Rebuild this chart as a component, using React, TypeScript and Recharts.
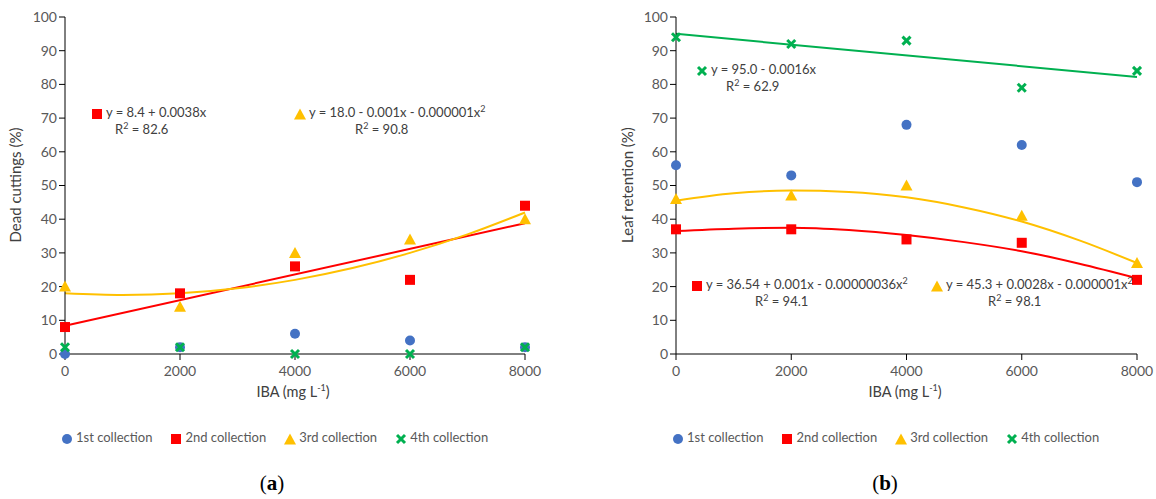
import React from 'react';
import {
  ComposedChart,
  Scatter,
  Line,
  XAxis,
  YAxis,
} from 'recharts';

// IBA concentrations (mg L-1)
const IBA = [0, 2000, 4000, 6000, 8000];
const Y_TICKS = [0, 10, 20, 30, 40, 50, 60, 70, 80, 90, 100];
const X_TICKS = [0, 2000, 4000, 6000, 8000];

// (a) dead cuttings (%)
const dead1st = [0, 2, 6, 4, 2];
const dead2nd = [8, 18, 26, 22, 44];
const dead3rd = [20, 14, 30, 34, 40];
const dead4th = [2, 2, 0, 0, 2];

// (b) leaf retention (%)
const leaf1st = [56, 53, 68, 62, 51];
const leaf2nd = [37, 37, 34, 33, 22];
const leaf3rd = [46, 47, 50, 41, 27];
const leaf4th = [94, 92, 93, 79, 84];

// trend lines
const LINE_X = [0, 8000];
const CURVE_X = [0, 1000, 2000, 3000, 4000, 5000, 6000, 7000, 8000];
const dead2ndFit = [8.4, 38.8];
const dead3rdFit = [18, 17.5, 18, 19.5, 22, 25.5, 30, 35.5, 42];
const leaf2ndFit = [36.5, 37.2, 37.5, 36.8, 35.3, 33.2, 30.5, 26.8, 22.5];
const leaf3rdFit = [45.5, 47.7, 48.5, 48.1, 46.5, 43.5, 39.3, 33.7, 27];
const leaf4thFit = [95, 82.2];

const BLUE = '#4472C4';
const RED = '#FF0000';
const YELLOW = '#FFC000';
const GREEN = '#00B050';
const GRAY = '#595959';
const FONT = 'Lato, "Open Sans", sans-serif';

const pts = (xs: number[], ys: number[]) => xs.map((x, i) => ({ x, y: ys[i] }));

const CircleDot = (p: any) => <circle cx={p.cx} cy={p.cy} r={5} fill={BLUE} />;
const SquareDot = (p: any) => (
  <rect x={p.cx - 5} y={p.cy - 5} width={10} height={10} fill={RED} />
);
const TriangleDot = (p: any) => (
  <path d={`M${p.cx},${p.cy - 6}L${p.cx + 6},${p.cy + 5}L${p.cx - 6},${p.cy + 5}Z`} fill={YELLOW} />
);
const XDot = (p: any) => (
  <g stroke={GREEN} strokeWidth={3}>
    <line x1={p.cx - 4} y1={p.cy - 4} x2={p.cx + 4} y2={p.cy + 4} />
    <line x1={p.cx - 4} y1={p.cy + 4} x2={p.cx + 4} y2={p.cy - 4} />
  </g>
);

const Icon = ({ kind }: { kind: string }) => (
  <svg width={12} height={12} style={{ verticalAlign: 'middle', marginRight: 3 }}>
    {kind === 'circle' && <CircleDot cx={6} cy={6} />}
    {kind === 'square' && <SquareDot cx={6} cy={6} />}
    {kind === 'triangle' && <TriangleDot cx={6} cy={6.5} />}
    {kind === 'x' && <XDot cx={6} cy={6} />}
  </svg>
);

const LEGEND = [
  { kind: 'circle', label: '1st collection' },
  { kind: 'square', label: '2nd collection' },
  { kind: 'triangle', label: '3rd collection' },
  { kind: 'x', label: '4th collection' },
];

const Legend = ({ left }: { left: number }) => (
  <div style={{ position: 'absolute', left, top: 429, display: 'flex', gap: 18, fontSize: 13, color: GRAY, whiteSpace: 'nowrap' }}>
    {LEGEND.map((l) => (
      <span key={l.label}>
        <Icon kind={l.kind} />
        {l.label}
      </span>
    ))}
  </div>
);

const Equation = ({ left, top, kind, eq, r2, sq, r2Left }: any) => (
  <div style={{ position: 'absolute', left, top, fontSize: 13, color: '#404040', whiteSpace: 'nowrap', lineHeight: '17px' }}>
    <div>
      <Icon kind={kind} />
      {eq}
      {sq && <sup style={{ fontSize: 9, lineHeight: 0 }}>2</sup>}
    </div>
    <div style={{ paddingLeft: r2Left }}>
      R<sup style={{ fontSize: 9, lineHeight: 0 }}>2</sup> = {r2}
    </div>
  </div>
);

const Panel = ({ s1, s2, s3, s4, fits, yWidth, width, right }: any) => (
  <ComposedChart width={width} height={384} margin={{ top: 17, right, bottom: 0, left: 0 }}>
    <XAxis
      type="number"
      dataKey="x"
      domain={[0, 8000]}
      ticks={X_TICKS}
      height={30}
      stroke="#000"
      tick={{ fill: GRAY, fontSize: 14 }}
      tickMargin={6}
    />
    <YAxis
      type="number"
      dataKey="y"
      domain={[0, 100]}
      ticks={Y_TICKS}
      width={yWidth}
      stroke="#000"
      tick={{ fill: GRAY, fontSize: 14 }}
      interval={0}
    />
    {fits.map((f: any, i: number) => (
      <Line
        key={i}
        data={f.data}
        dataKey="y"
        type="monotone"
        stroke={f.color}
        strokeWidth={2}
        dot={false}
        isAnimationActive={false}
      />
    ))}
    <Scatter data={pts(IBA, s1)} dataKey="y" shape={CircleDot} isAnimationActive={false} />
    <Scatter data={pts(IBA, s2)} dataKey="y" shape={SquareDot} isAnimationActive={false} />
    <Scatter data={pts(IBA, s3)} dataKey="y" shape={TriangleDot} isAnimationActive={false} />
    <Scatter data={pts(IBA, s4)} dataKey="y" shape={XDot} isAnimationActive={false} />
  </ComposedChart>
);

const AxisTitle = ({ center }: { center: number }) => (
  <div style={{ position: 'absolute', left: center - 60, width: 120, top: 382, textAlign: 'center', fontSize: 14.5, color: '#404040' }}>
    IBA (mg L<sup style={{ fontSize: 9 }}>-1</sup>)
  </div>
);

const YTitle = ({ x, text }: { x: number; text: string }) => (
  <div
    style={{
      position: 'absolute',
      left: x - 80,
      top: 176,
      width: 160,
      textAlign: 'center',
      fontSize: 15,
      color: '#404040',
      transform: 'rotate(-90deg)',
    }}
  >
    {text}
  </div>
);

const Caption = ({ center, text }: { center: number; text: string }) => (
  <div style={{ position: 'absolute', left: center - 30, width: 60, top: 471, textAlign: 'center', fontFamily: '"Liberation Serif", serif', fontSize: 21 }}>
    ({<b>{text}</b>})
  </div>
);

export default function App() {
  return (
    <div style={{ position: 'absolute', left: 0, top: 0, width: 1156, height: 499, fontFamily: FONT, background: '#fff' }}>
      <div style={{ position: 'absolute', left: 0, top: 0 }}>
        <Panel
          s1={dead1st}
          s2={dead2nd}
          s3={dead3rd}
          s4={dead4th}
          width={570}
          yWidth={65}
          right={45}
          fits={[
            { data: pts(LINE_X, dead2ndFit), color: RED },
            { data: pts(CURVE_X, dead3rdFit), color: YELLOW },
          ]}
        />
      </div>
      <div style={{ position: 'absolute', left: 578, top: 0 }}>
        <Panel
          s1={leaf1st}
          s2={leaf2nd}
          s3={leaf3rd}
          s4={leaf4th}
          width={578}
          yWidth={98}
          right={19}
          fits={[
            { data: pts(LINE_X, leaf4thFit), color: GREEN },
            { data: pts(CURVE_X, leaf3rdFit), color: YELLOW },
            { data: pts(CURVE_X, leaf2ndFit), color: RED },
          ]}
        />
      </div>

      <Equation left={91} top={104} kind="square" eq="y = 8.4 + 0.0038x" r2="82.6" r2Left={24} />
      <Equation left={294} top={104} kind="triangle" eq="y = 18.0 - 0.001x - 0.000001x" sq r2="90.8" r2Left={61} />
      <Equation left={696} top={61} kind="x" eq="y = 95.0 - 0.0016x" r2="62.9" r2Left={30} />
      <Equation left={691} top={276} kind="square" eq="y = 36.54 + 0.001x - 0.00000036x" sq r2="94.1" r2Left={64} />
      <Equation left={931} top={276} kind="triangle" eq="y = 45.3 + 0.0028x - 0.000001x" sq r2="98.1" r2Left={57} />

      <YTitle x={15} text="Dead cuttings (%)" />
      <YTitle x={627} text="Leaf retention (%)" />
      <AxisTitle center={293} />
      <AxisTitle center={905} />
      <Legend left={61} />
      <Legend left={672} />
      <Caption center={272} text="a" />
      <Caption center={885} text="b" />
    </div>
  );
}
